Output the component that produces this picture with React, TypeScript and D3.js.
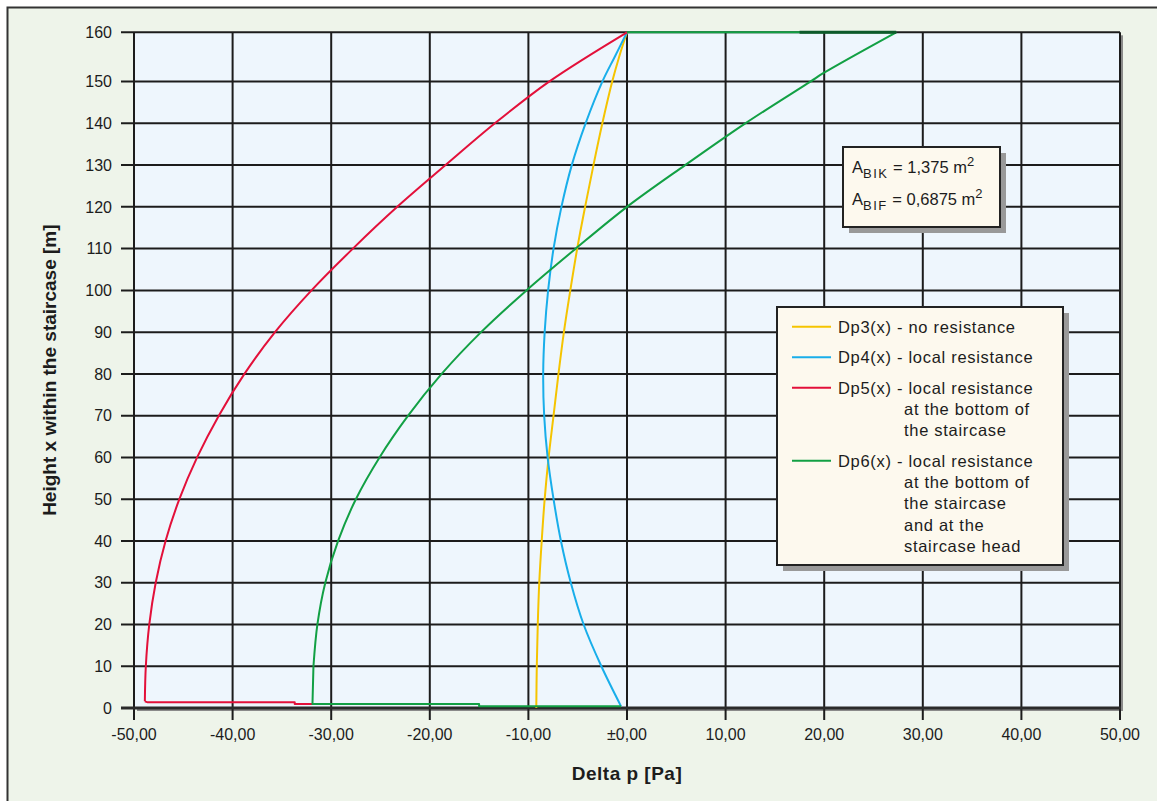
import React from 'react';
import * as d3 from 'd3';

const W = 1157, H = 801;

// axis ticks
const xTicks = [-50, -40, -30, -20, -10, 0, 10, 20, 30, 40, 50];
const xTickLabels = ['-50,00', '-40,00', '-30,00', '-20,00', '-10,00', '±0,00', '10,00', '20,00', '30,00', '40,00', '50,00'];
const yTicks = [0, 10, 20, 30, 40, 50, 60, 70, 80, 90, 100, 110, 120, 130, 140, 150, 160];

// Dp3(x) - no resistance
const h3 = [160, 155, 150, 140, 130, 120, 110, 100, 90, 80, 70, 60, 50, 40, 30, 20, 10, 0];
const dp3 = [0, -0.8, -1.5, -2.5, -3.4, -4.25, -5.05, -5.75, -6.4, -6.95, -7.45, -7.95, -8.35, -8.65, -8.9, -9.05, -9.15, -9.2];

// Dp4(x) - local resistance
const h4 = [160, 155, 150, 140, 130, 120, 110, 100, 90, 80, 70, 60, 50, 40, 30, 20, 10, 0.4];
const dp4 = [0, -1.25, -2.5, -4.2, -5.6, -6.65, -7.45, -8.0, -8.35, -8.5, -8.4, -8.05, -7.45, -6.7, -5.7, -4.4, -2.6, -0.6];

// Dp5(x) - local resistance at the bottom (curve, then the step at the foot)
const h5 = [160, 150, 140, 130, 120, 110, 100, 90, 80, 70, 60, 50, 40, 30, 20, 10, 1.6];
const dp5 = [0, -7.9, -13.4, -18.4, -23.3, -27.8, -32.0, -35.7, -38.8, -41.4, -43.6, -45.4, -46.8, -47.8, -48.45, -48.8, -48.9];
const h5Step = [1.6, 1.35, 1.35, 0.95, 0.95];
const dp5Step = [-48.9, -48.6, -33.7, -33.7, -31.9];

// Dp6(x) - local resistance at the bottom and at the head
const h6 = [10, 20, 30, 40, 50, 60, 70, 80, 90, 100, 110, 120, 130, 140, 150, 151.7, 160];
const dp6 = [-31.8, -31.4, -30.6, -29.3, -27.5, -25.1, -22.2, -18.8, -14.8, -10.2, -5.2, 0, 5.9, 12.0, 18.6, 19.9, 27.3];
const h6Step = [0.4, 0.4, 0.95, 0.95, 10];
const dp6Step = [-0.6, -15, -15, -31.9, -31.8];
const h6Head = [160, 160];
const dp6Head = [27.3, 0];
const hDark = [160, 160];
const dpDark = [17.5, 27.3];

const series = [
  { key: 'dp3', h: h3, dp: dp3, steps: [] as [number[], number[]][], color: '#f5c400', lines: ['Dp3(x) - no resistance'] },
  { key: 'dp4', h: h4, dp: dp4, steps: [] as [number[], number[]][], color: '#19aeea', lines: ['Dp4(x) - local resistance'] },
  { key: 'dp5', h: h5, dp: dp5, steps: [[h5Step, dp5Step]] as [number[], number[]][], color: '#e3103a', lines: ['Dp5(x) - local resistance', 'at the bottom of', 'the staircase'] },
  { key: 'dp6', h: h6, dp: dp6, steps: [[h6Step, dp6Step], [h6Head, dp6Head]] as [number[], number[]][], color: '#12a044', lines: ['Dp6(x) - local resistance', 'at the bottom of', 'the staircase', 'and at the', 'staircase head'] },
];

const font = 'Liberation Sans, Arial, Helvetica, sans-serif';
const ink = '#1c1c1c';

const App = () => {
  const plotL = 134, plotR = 1120, plotT = 32.3, plotB = 708;
  const x = d3.scaleLinear().domain([-50, 50]).range([plotL, plotR]);
  // the top interval (150-160) is drawn wider than the others in the original
  const topGap = 1.18;
  const unit = (plotB - plotT) / (150 + 10 * topGap);
  const y = d3.scaleLinear().domain([0, 150, 160]).range([plotB, plotB - 150 * unit, plotT]);

  const smooth = (hs: number[], dps: number[]) =>
    d3.line<number>().x(i => x(dps[i])).y(i => y(hs[i])).curve(d3.curveCatmullRom.alpha(0.5))(d3.range(hs.length)) || '';
  const straight = (hs: number[], dps: number[]) =>
    d3.line<number>().x(i => x(dps[i])).y(i => y(hs[i]))(d3.range(hs.length)) || '';

  // legend layout
  const legX = 777, legY = 307, legW = 286, legH = 258;
  const rowGap = 30.5, lineGap = 21.3;
  let cursor = legY + 19.7;
  const legendRows = series.map(s => {
    const row = { ...s, y0: cursor };
    cursor += (s.lines.length - 1) * lineGap + rowGap;
    return row;
  });

  const boxX = 843, boxY = 147, boxW = 157, boxH = 80;

  return (
    <svg width={W} height={H} style={{ position: 'absolute', left: 0, top: 0 }} fontFamily={font}>
      <rect x={7.5} y={7.5} width={W + 20} height={H + 20} fill="#eef4ea" stroke="#333" strokeWidth={2} />

      {/* plot area */}
      <rect x={plotL + 3} y={plotT + 3} width={plotR - plotL} height={plotB - plotT} fill="#8a8a8a" />
      <rect x={plotL} y={plotT} width={plotR - plotL} height={plotB - plotT} fill="#eef6fd" />

      {yTicks.map(t => (
        <line key={'gy' + t} x1={plotL - 13} x2={plotR} y1={y(t)} y2={y(t)} stroke="#1c1c1c" strokeWidth={2} />
      ))}
      {xTicks.map(t => (
        <line key={'gx' + t} x1={x(t)} x2={x(t)} y1={plotT} y2={plotB + 12} stroke="#1c1c1c" strokeWidth={2} />
      ))}
      <line x1={plotL - 13} x2={plotR + 1} y1={plotB} y2={plotB} stroke="#2a2a2a" strokeWidth={3} />

      {yTicks.map(t => (
        <text key={'ly' + t} x={112} y={y(t)} dy="0.36em" textAnchor="end" fontSize={16} fill={ink}>{t}</text>
      ))}
      {xTicks.map((t, i) => (
        <text key={'lx' + t} x={x(t)} y={734} dy="0.36em" textAnchor="middle" fontSize={16} fill={ink}>{xTickLabels[i]}</text>
      ))}

      <text x={x(0)} y={773} dy="0.36em" textAnchor="middle" fontSize={19} fontWeight="bold" letterSpacing={0.5} fill={ink}>Delta p [Pa]</text>
      <text transform={`translate(49,${(plotT + plotB) / 2}) rotate(-90)`} dy="0.36em" textAnchor="middle" fontSize={19} fontWeight="bold" fill={ink}>
        Height x within the staircase [m]
      </text>

      {/* curves */}
      {series.map(s => (
        <g key={s.key} fill="none" stroke={s.color} strokeWidth={2} strokeLinejoin="round">
          <path d={smooth(s.h, s.dp)} />
          {s.steps.map(([hs, dps], i) => <path key={i} d={straight(hs, dps)} />)}
        </g>
      ))}
      <path d={straight(hDark, dpDark)} fill="none" stroke="#0d5a2a" strokeWidth={3} />

      {/* area annotation */}
      <rect x={boxX + 6} y={boxY + 6} width={boxW} height={boxH} fill="#999" />
      <rect x={boxX} y={boxY} width={boxW} height={boxH} fill="#fdf9ee" stroke="#222" strokeWidth={2} />
      <text x={852} y={173} fontSize={16.5} fill={ink}>
        A<tspan fontSize={13} letterSpacing={1.5} dy={5}>BIK</tspan><tspan dy={-5} letterSpacing={0}> = 1,375 m</tspan><tspan fontSize={13} dy={-7}>2</tspan>
      </text>
      <text x={852} y={205} fontSize={16.5} fill={ink}>
        A<tspan fontSize={13} letterSpacing={1.5} dy={5}>BIF</tspan><tspan dy={-5} letterSpacing={0}> = 0,6875 m</tspan><tspan fontSize={13} dy={-7}>2</tspan>
      </text>

      {/* legend */}
      <rect x={legX + 6} y={legY + 6} width={legW} height={legH} fill="#999" />
      <rect x={legX} y={legY} width={legW} height={legH} fill="#fdf9ee" stroke="#222" strokeWidth={2} />
      {legendRows.map(r => (
        <g key={'leg' + r.key}>
          <line x1={792} x2={831} y1={r.y0} y2={r.y0} stroke={r.color} strokeWidth={2} />
          {r.lines.map((t, i) => (
            <text key={t + i} x={i === 0 ? 838 : 904} y={r.y0 + i * lineGap} dy="0.36em" fontSize={16.5} letterSpacing={0.7} fill={ink}>{t}</text>
          ))}
        </g>
      ))}
    </svg>
  );
};

export default App;
